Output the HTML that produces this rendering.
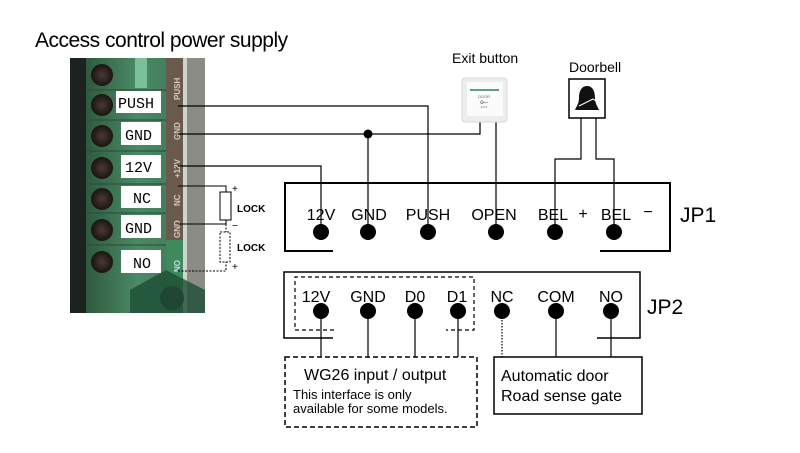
<!DOCTYPE html>
<html><head><meta charset="utf-8"><style>
html,body{margin:0;padding:0;background:#fff;}
svg{display:block;}
text{font-family:"Liberation Sans",Arial,sans-serif;}
text.m{font-family:"Liberation Mono","DejaVu Sans Mono",monospace;font-size:15px;}
</style></head><body>
<svg width="800" height="453" viewBox="0 0 800 453" xmlns="http://www.w3.org/2000/svg">
<rect width="800" height="453" fill="#fff"/>
<text x="35" y="47" font-size="21" letter-spacing="-0.5" fill="#000">Access control power supply</text>

<defs>
<linearGradient id="g1" x1="0" x2="1"><stop offset="0" stop-color="#1e2b22"/><stop offset="0.12" stop-color="#2f5a40"/><stop offset="0.5" stop-color="#4a8a66"/><stop offset="1" stop-color="#3b6e52"/></linearGradient>
<radialGradient id="sc"><stop offset="0" stop-color="#4a3a32"/><stop offset="1" stop-color="#1a1412"/></radialGradient>
</defs>
<rect x="70" y="58" width="135" height="255" fill="url(#g1)"/>
<rect x="70" y="58" width="16" height="255" fill="#1c221e"/>
<rect x="166" y="58" width="20" height="200" fill="#6a5a4e"/>
<rect x="166" y="240" width="20" height="50" fill="#3f8a5c"/>
<rect x="186" y="58" width="19" height="255" fill="#8c8c86"/>
<rect x="183" y="58" width="4" height="255" fill="#cfd4cc"/>
<rect x="135" y="58" width="12" height="30" fill="#7ac09a"/>
<g stroke="#2a4a36" stroke-width="1">
<line x1="86" y1="90" x2="166" y2="90"/><line x1="86" y1="120" x2="166" y2="120"/><line x1="86" y1="151" x2="166" y2="151"/><line x1="86" y1="184" x2="166" y2="184"/><line x1="86" y1="213" x2="166" y2="213"/><line x1="86" y1="245" x2="166" y2="245"/>
</g>
<g fill="url(#sc)">
<circle cx="102" cy="75" r="11"/><circle cx="102" cy="105" r="11"/><circle cx="102" cy="136" r="11"/><circle cx="102" cy="168" r="11"/><circle cx="102" cy="199" r="11"/><circle cx="102" cy="230" r="11"/><circle cx="102" cy="262" r="11"/>
</g>
<circle cx="172" cy="298" r="12" fill="#2a2a28"/>
<polygon points="130,290 166,270 205,290 205,313 130,313" fill="#1d4e35" opacity="0.8"/>
<g fill="#fff">
<rect x="116" y="91" width="45" height="22"/><rect x="121" y="122" width="40" height="23"/><rect x="121" y="155" width="40" height="23"/><rect x="121" y="186" width="40" height="22"/><rect x="121" y="215" width="40" height="23"/><rect x="121" y="250" width="40" height="23"/>
</g>
<g fill="#000">
<text class="m" x="118" y="108">PUSH</text><text class="m" x="125" y="140">GND</text><text class="m" x="125" y="172">12V</text><text class="m" x="133" y="203">NC</text><text class="m" x="125" y="233">GND</text><text class="m" x="133" y="268">NO</text>
</g>
<g font-size="8" fill="#d8ccc0" font-weight="bold">
<text transform="translate(180,100) rotate(-90)">PUSH</text>
<text transform="translate(180,140) rotate(-90)">GND</text>
<text transform="translate(180,178) rotate(-90)">+12V</text>
<text transform="translate(180,206) rotate(-90)">NC</text>
<text transform="translate(180,238) rotate(-90)">GND</text>
<text transform="translate(180,272) rotate(-90)" fill="#cde">NO</text>
</g>

<g stroke="#000" stroke-width="1" fill="none">
<polyline points="178,186 226,186 226,192"/>
<rect x="220" y="192" width="11" height="28" fill="#fff"/>
<polyline points="178,224 226,224 226,220"/>
<g stroke-dasharray="2,1.5">
<rect x="220" y="232" width="10" height="30"/>
<line x1="226" y1="224" x2="226" y2="232"/>
<polyline points="178,271 226,271 226,262"/>
</g>
</g>
<g font-size="10" fill="#000">
<text x="232" y="192">+</text><text x="232" y="229">−</text><text x="232" y="270">+</text>
<text x="237" y="212" font-weight="bold">LOCK</text><text x="237" y="251" font-weight="bold">LOCK</text>
</g>

<g stroke="#000" stroke-width="1.2" fill="none">
<polyline points="178,106 428,106 428,232"/>
<polyline points="178,134 480,134 480,122"/>
<line x1="368" y1="134" x2="368" y2="232"/>
<polyline points="178,166 321,166 321,232"/>
<line x1="496" y1="122" x2="496" y2="232"/>
<polyline points="581,118 581,159 555,159 555,232"/>
<polyline points="596,118 596,159 614,159 614,232"/>
</g>
<circle cx="368" cy="134" r="4.5" fill="#000"/>

<text x="452" y="63" font-size="14">Exit button</text>
<rect x="462" y="78" width="45" height="44" rx="3" fill="#eceeee" stroke="#d8dada"/>
<rect x="467" y="82" width="36" height="34" fill="#fbfbfb"/>
<line x1="470" y1="90" x2="499" y2="90" stroke="#2f7a6a" stroke-width="1.5"/>
<text x="484" y="98" font-size="4" text-anchor="middle" fill="#666">DOOR</text>
<text x="484" y="104" font-size="6" text-anchor="middle" fill="#333">o─</text>
<text x="484" y="108" font-size="3" text-anchor="middle" fill="#777">EXIT</text>

<text x="569" y="72" font-size="14">Doorbell</text>
<rect x="569" y="79" width="36" height="39" fill="#fff" stroke="#000" stroke-width="1.5"/>
<path d="M587,86 c-6,0 -8,6 -8,12 c0,6 -3,9 -4,12 l24,0 c-1,-3 -4,-6 -4,-12 c0,-6 -2,-12 -8,-12z" fill="#111"/>
<path d="M579,106 l14,-7 l6,4" stroke="#fff" stroke-width="1" fill="none"/>

<polyline points="333,251 285,251 285,183 670,183 670,251 600,251" stroke="#000" stroke-width="2" fill="none"/>
<g font-size="16" fill="#000">
<text x="321" y="220" text-anchor="middle">12V</text>
<text x="369" y="220" text-anchor="middle">GND</text>
<text x="428" y="220" text-anchor="middle">PUSH</text>
<text x="494" y="220" text-anchor="middle">OPEN</text>
<text x="553" y="220" text-anchor="middle">BEL</text>
<text x="583" y="219" text-anchor="middle">+</text>
<text x="616" y="220" text-anchor="middle">BEL</text>
<text x="648" y="217" text-anchor="middle">−</text>
<text x="680" y="222" font-size="21">JP1</text>
</g>
<g fill="#000"><circle cx="321" cy="232" r="8"/><circle cx="368" cy="232" r="8"/><circle cx="428" cy="232" r="8"/><circle cx="496" cy="232" r="8"/><circle cx="555" cy="232" r="8"/><circle cx="614" cy="232" r="8"/></g>

<polyline points="333,338 284,338 284,272 640,272 640,338 597,338" stroke="#000" stroke-width="1.5" fill="none"/>
<polyline points="334,330 295,330 295,277 474,277 474,330 446,330" stroke="#000" stroke-width="1.2" stroke-dasharray="4,3" fill="none"/>
<g font-size="16" fill="#000">
<text x="316" y="302" text-anchor="middle">12V</text>
<text x="368" y="302" text-anchor="middle">GND</text>
<text x="415" y="302" text-anchor="middle">D0</text>
<text x="457" y="302" text-anchor="middle">D1</text>
<text x="502" y="302" text-anchor="middle">NC</text>
<text x="556" y="302" text-anchor="middle">COM</text>
<text x="611" y="302" text-anchor="middle">NO</text>
<text x="647" y="314" font-size="21">JP2</text>
</g>
<g fill="#000"><circle cx="321" cy="311" r="8"/><circle cx="368" cy="311" r="8"/><circle cx="415" cy="311" r="8"/><circle cx="458" cy="311" r="8"/><circle cx="502" cy="311" r="8"/><circle cx="556" cy="311" r="8"/><circle cx="611" cy="311" r="8"/></g>
<g stroke="#000" stroke-width="1.2">
<line x1="321" y1="311" x2="321" y2="357"/><line x1="368" y1="311" x2="368" y2="357"/><line x1="415" y1="311" x2="415" y2="357"/><line x1="458" y1="311" x2="458" y2="357"/>
<line x1="502" y1="311" x2="502" y2="357" stroke-dasharray="1.5,1.5"/><line x1="556" y1="311" x2="556" y2="357"/><line x1="611" y1="311" x2="611" y2="357"/>
</g>
<rect x="285" y="357" width="192" height="70" fill="#fff" stroke="#000" stroke-width="1.5" stroke-dasharray="5,3"/>
<text x="304" y="380" font-size="16">WG26 input / output</text>
<text x="293" y="399" font-size="13">This interface is only</text>
<text x="293" y="413" font-size="13">available for some models.</text>
<rect x="494" y="357" width="148" height="57" fill="#fff" stroke="#000" stroke-width="1.5"/>
<text x="501" y="381" font-size="16">Automatic door</text>
<text x="501" y="401" font-size="16">Road sense gate</text>
</svg>
</body></html>
